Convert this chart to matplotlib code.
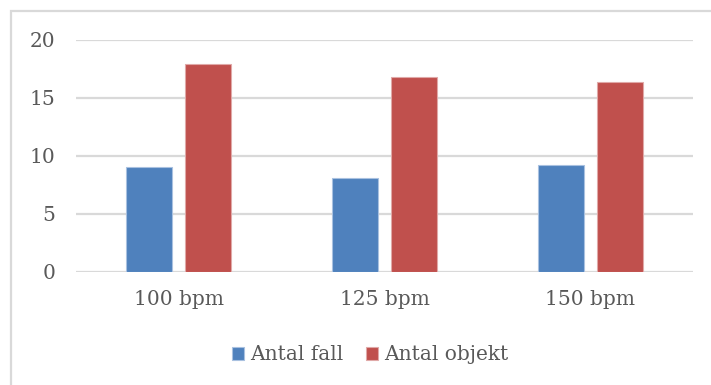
import numpy as np
import matplotlib
matplotlib.use("Agg")
import matplotlib.pyplot as plt
from matplotlib.patches import Rectangle

# Dados do gráfico
tempos = ["100 bpm", "125 bpm", "150 bpm"]
antal_fall = [9.0, 8.1, 9.2]
antal_objekt = [17.9, 16.8, 16.4]
serie_nomes = ["Antal fall", "Antal objekt"]

azul = "#4F81BD"
vermelho = "#C0504D"
cinza_texto = "#595959"
cinza_linha = "#D9D9D9"

plt.rcParams["font.family"] = ["DejaVu Serif"]

fig = plt.figure(figsize=(7.11, 3.85), dpi=100)
ax = fig.add_axes([76 / 711, 1 - 271.5 / 385, (693 - 76) / 711, (271.5 - 40) / 385])

# Moldura do gráfico (continua além da borda direita e inferior)
fig.patches.append(Rectangle((11 / 711, -0.1), 1.2, (385 - 10.5) / 385 + 0.1,
                             transform=fig.transFigure, fill=False,
                             edgecolor=cinza_linha, linewidth=1.6))

x = np.arange(len(tempos))
largura = 0.224
ax.bar(x - 0.143, antal_fall, largura, color=azul, edgecolor="#A9C1E0",
       linewidth=0.8, label=serie_nomes[0], zorder=3)
ax.bar(x + 0.143, antal_objekt, largura, color=vermelho, edgecolor="#E0A9A8",
       linewidth=0.8, label=serie_nomes[1], zorder=3)

ax.set_xlim(-0.5, 2.5)
ax.set_ylim(0, 20)
ax.set_yticks([0, 5, 10, 15, 20])
ax.set_xticks(x)
ax.set_xticklabels(tempos)
ax.grid(axis="y", color=cinza_linha, linewidth=1.6, zorder=0)
ax.set_axisbelow(True)
for lado in ["top", "right", "left", "bottom"]:
    ax.spines[lado].set_visible(False)
ax.tick_params(axis="both", length=0, labelsize=14.5, labelcolor=cinza_texto)
ax.tick_params(axis="y", pad=15)
ax.tick_params(axis="x", pad=13)

fig.legend(loc="center", bbox_to_anchor=(370 / 711, 1 - 355 / 385), ncol=2,
           frameon=False, fontsize=14.5, labelcolor=cinza_texto,
           handlelength=0.6, handleheight=0.6, handletextpad=0.3,
           columnspacing=1.1)

fig.savefig("out.png", dpi=100)
